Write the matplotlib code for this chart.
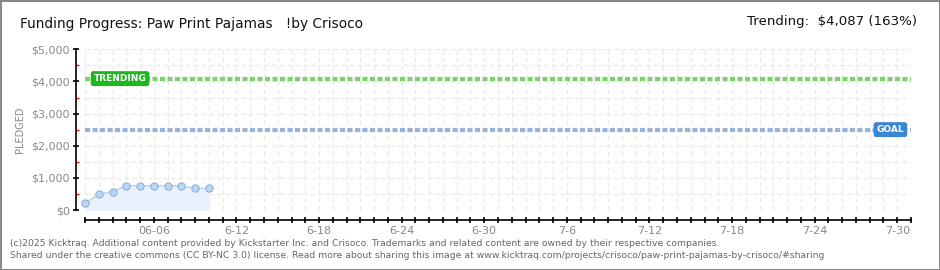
import pandas as pd
import matplotlib
matplotlib.use("Agg")
import matplotlib.pyplot as plt
import matplotlib.dates as mdates

# data
dates = pd.date_range("2025-06-01", "2025-06-10", freq="D")
pledged = [210, 489, 570, 757, 757, 757, 757, 757, 675, 675]
goal = 2500
trending = 4087
start = pd.Timestamp("2025-06-01")
end = pd.Timestamp("2025-07-31")
tick_dates = pd.date_range("2025-06-06", "2025-07-30", freq="6D")
tick_labels = ["06-06", "6-12", "6-18", "6-24", "6-30", "7-6", "7-12", "7-18", "7-24", "7-30"]
y_ticks = [0, 1000, 2000, 3000, 4000, 5000]
y_labels = ["$0", "$1,000", "$2,000", "$3,000", "$4,000", "$5,000"]

plt.rcParams["font.family"] = ["DejaVu Sans"]

fig = plt.figure(figsize=(9.4, 2.7), dpi=100)
fig.patch.set_facecolor("white")
fig.patch.set_edgecolor("#888888")
fig.patch.set_linewidth(2)

ax = fig.add_axes([85 / 940, 60 / 270, 826 / 940, 160.7 / 270])
ax.set_xlim(start, end)
ax.set_ylim(0, 5000)

# grid
ax.set_yticks(range(0, 5001, 500), minor=True)
ax.xaxis.set_minor_locator(mdates.DayLocator())
ax.grid(which="both", color="#e8e8e8", linestyle=(0, (4, 3)), linewidth=0.8)
ax.set_axisbelow(True)

# goal and trending lines
ax.axhline(trending, color="#7ad46a", linestyle=(0, (1.2, 0.6)), linewidth=3)
ax.axhline(goal, color="#94b4dc", linestyle=(0, (1.2, 0.6)), linewidth=3)

# pledged series
ax.fill_between(dates, pledged, 0, color="#e8f1fc", zorder=2)
ax.plot(dates, pledged, color="#b8d2f0", linewidth=1, marker="o", markersize=5.2,
        markerfacecolor="#bcd7f5", markeredgecolor="#8fb0d8", markeredgewidth=0.8,
        zorder=3, clip_on=False)

# labels on lines
ax.text(start + pd.Timedelta(days=2.55), trending, "TRENDING", color="white",
        fontsize=6.5, fontweight="bold", ha="center", va="center", zorder=5,
        bbox=dict(boxstyle="round,pad=0.25,rounding_size=0.2", fc="#1db81d", ec="#1db81d"))
ax.text(start + pd.Timedelta(days=58.5), goal, "GOAL", color="white",
        fontsize=6.5, fontweight="bold", ha="center", va="center", zorder=5,
        bbox=dict(boxstyle="round,pad=0.25,rounding_size=0.2", fc="#3a86d6", ec="#3a86d6"))

# axes styling (outward offsets are in points: 9px, 10px)
for s in ["top", "right"]:
    ax.spines[s].set_visible(False)
ax.spines["left"].set_position(("outward", 6.5))
ax.spines["bottom"].set_position(("outward", 7.2))
ax.spines["left"].set_linewidth(1.2)
ax.spines["bottom"].set_linewidth(1.2)

ax.set_yticks(y_ticks)
ax.set_yticklabels(y_labels)
ax.set_xticks(tick_dates)
ax.set_xticklabels(tick_labels)
ax.tick_params(axis="both", which="major", direction="inout", length=4.5, width=1.2,
               labelsize=8, labelcolor="#888888", color="black", pad=2)
ax.tick_params(axis="x", which="minor", direction="inout", length=4.5, width=1.2, color="black")
ax.tick_params(axis="y", which="minor", direction="in", length=2, width=1, color="red")
ax.set_ylabel("PLEDGED", fontsize=7, color="#888888")
ax.yaxis.set_label_coords(-60 / 826, 0.5)

# titles
fig.text(20 / 940, 1 - 24 / 270, "Funding Progress: Paw Print Pajamas   !by Crisoco",
         fontsize=9.9, ha="left", va="center", color="#111111")
fig.text(917 / 940, 1 - 22 / 270, "Trending:  \\$4,087 (163%)",
         fontsize=9.6, ha="right", va="center", color="#111111")

# footer
fig.text(10 / 940, 1 - 243 / 270,
         "(c)2025 Kicktraq. Additional content provided by Kickstarter Inc. and Crisoco. "
         "Trademarks and related content are owned by their respective companies.",
         fontsize=6.65, color="#666666", ha="left", va="center")
fig.text(10 / 940, 1 - 255 / 270,
         "Shared under the creative commons (CC BY-NC 3.0) license. Read more about sharing "
         "this image at www.kicktraq.com/projects/crisoco/paw-print-pajamas-by-crisoco/#sharing",
         fontsize=6.65, color="#666666", ha="left", va="center")

fig.savefig("out.png", dpi=100)
